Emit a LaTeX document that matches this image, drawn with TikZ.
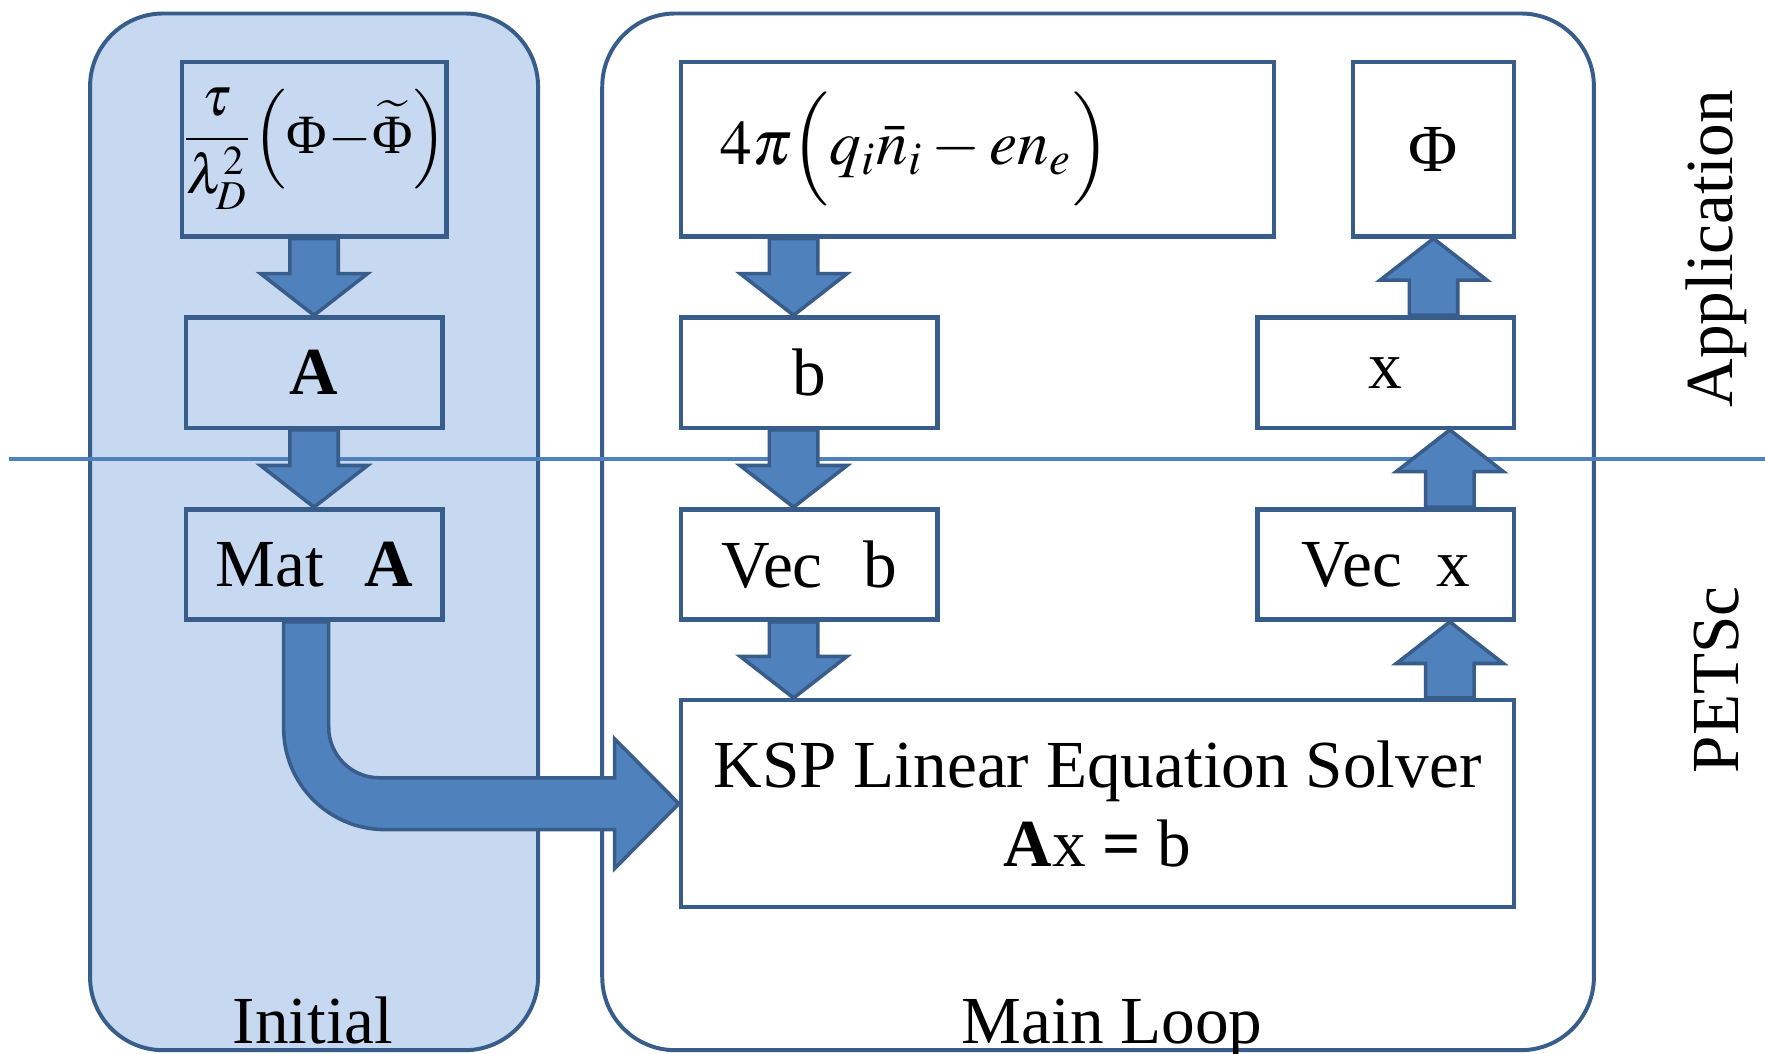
\documentclass[tikz,border=0pt]{standalone}
\usepackage{mathptmx}
\usepackage{fontspec}
\setmainfont{Liberation Serif}
\usetikzlibrary{calc}

\definecolor{borde}{HTML}{385D8A}
\definecolor{relleno}{HTML}{C6D9F1}
\definecolor{flecha}{HTML}{4F81BD}

% flecha gruesa vertical: #1 inicio, #2 punta, #3 = 1 (abajo) o -1 (arriba)
\newcommand{\bloqueflecha}[3]{%
  \draw[gruesa] let \p1=#1, \p2=#2 in
    (\x1-0.215cm,\y1) -- (\x1-0.215cm,{\y2+#3*0.37cm}) -- (\x1-0.475cm,{\y2+#3*0.37cm})
    -- (\x1,\y2) -- (\x1+0.475cm,{\y2+#3*0.37cm}) -- (\x1+0.215cm,{\y2+#3*0.37cm})
    -- (\x1+0.215cm,\y1) -- cycle;}

\begin{document}
\begin{tikzpicture}[
    every node/.style={font=\fontsize{17}{20}\selectfont},
    grupo/.style={draw=borde, line width=1pt, rounded corners=0.65cm,
      minimum width=#1, minimum height=9.21cm},
    caja/.style={draw=borde, line width=1.1pt, fill=white, inner sep=0pt,
      minimum width=2.28cm, minimum height=0.98cm},
    gruesa/.style={draw=borde, fill=flecha, line width=0.9pt, line join=miter},
    linea/.style={draw=flecha, line width=1pt}
  ]
  \useasboundingbox (0,0) rectangle (15.68,9.36);

  % Grupos
  \node[grupo=3.98cm, fill=relleno] (inicial) at (2.79,4.635) {};
  \node[grupo=8.81cm, fill=white] (bucle) at (9.755,4.635) {};

  % Separacion
  \coordinate (izq) at (0.08,5.28);
  \coordinate (der) at (15.68,5.28);
  \draw[linea] (izq) -- (der);

  % Columnas
  \coordinate (colb) at (7.05,0);
  \coordinate (colx) at (12.88,0);

  % Cajas
  \node[caja, fill=relleno, minimum height=1.55cm, font=\fontsize{14}{16}\selectfont] (fuente) at (2.79,8.035)
    {$\displaystyle\frac{\tau}{\lambda_D^2}\Bigl(\mbox{Φ}\!-\!\widetilde{\mbox{Φ}}\Bigr)$};
  \node[caja, fill=relleno] (A) at (2.79,6.05) {\textbf{A}};
  \node[caja, fill=relleno] (matA) at (2.79,4.345) {Mat\hspace{0.6em}\textbf{A}};

  \node[caja, minimum height=1.55cm, text width=4.57cm, align=left, inner xsep=0.35cm,
    font=\fontsize{16}{18}\selectfont]
    (carga) at (8.685,8.035) {$4\pi\Bigl(q_i\bar{n}_i-en_e\Bigr)$};
  \node[caja, minimum width=1.43cm, minimum height=1.55cm] (Phi) at (12.735,8.035) {Φ};
  \node[caja] (b) at (7.19,6.05) {b};
  \node[caja] (x) at (12.31,6.05) {x};
  \node[caja] (vecb) at (7.19,4.345) {Vec\hspace{0.6em}b};
  \node[caja] (vecx) at (12.31,4.345) {Vec\hspace{0.5em}x};
  \node[caja, minimum width=7.40cm, minimum height=1.84cm, align=center] (ksp) at (9.75,2.22)
    {KSP Linear Equation Solver\\ \textbf{A}x \textbf{=} b};

  % Flechas
  \bloqueflecha{(fuente.south)}{(A.north)}{1}
  \bloqueflecha{(A.south)}{(matA.north)}{1}
  \bloqueflecha{(carga.south -| colb)}{(b.north -| colb)}{1}
  \bloqueflecha{(b.south -| colb)}{(vecb.north -| colb)}{1}
  \bloqueflecha{(vecb.south -| colb)}{(ksp.north -| colb)}{1}
  \bloqueflecha{(ksp.north -| colx)}{(vecx.south -| colx)}{-1}
  \bloqueflecha{(vecx.north -| colx)}{(x.south -| colx)}{-1}
  \bloqueflecha{(x.north -| Phi.south)}{(Phi.south)}{-1}

  \draw[gruesa] let \p1=(matA.south), \p2=(ksp.west) in
    (\x1-0.27cm,\y1) -- (\x1-0.27cm,\y2+0.67cm)
    arc[start angle=180, end angle=270, radius=0.9cm]
    -- (\x2-0.57cm,\y2-0.23cm) -- (\x2-0.57cm,\y2-0.575cm) -- (\p2)
    -- (\x2-0.57cm,\y2+0.575cm) -- (\x2-0.57cm,\y2+0.23cm)
    -- (\x1+0.58cm,\y2+0.23cm)
    arc[start angle=270, end angle=180, radius=0.45cm]
    -- (\x1+0.13cm,\y1) -- cycle;

  % Textos
  \node[anchor=base] (tinicial) at (2.78,0.09) {Initial};
  \node[anchor=base] (tbucle) at (9.88,0.09) {Main Loop};
  \node[rotate=90] (app) at (15.25,7.15) {Application};
  \node[rotate=90] (petsc) at (15.25,3.32) {PETSc};
\end{tikzpicture}
\end{document}
